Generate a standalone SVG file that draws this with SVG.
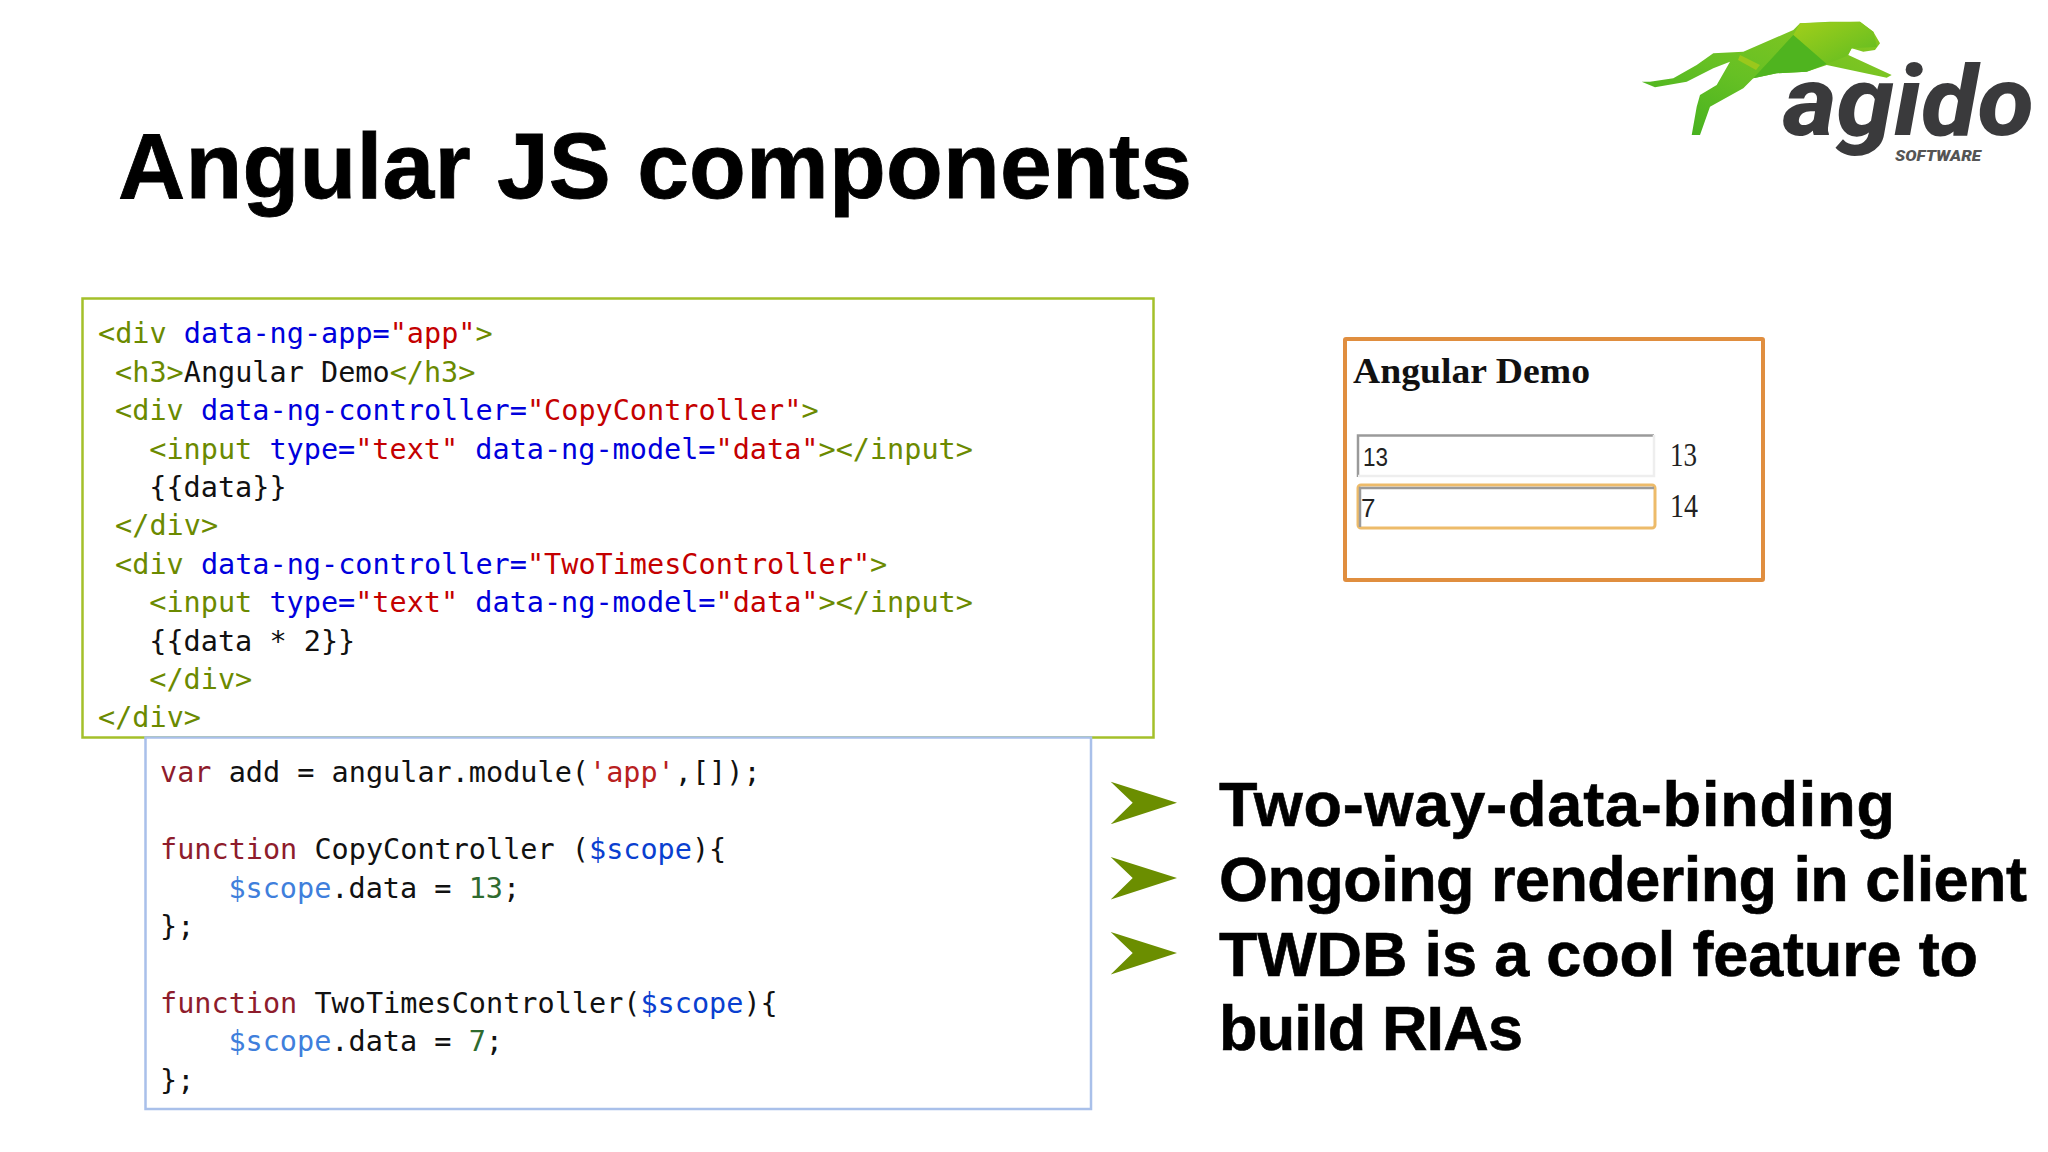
<svg xmlns="http://www.w3.org/2000/svg" width="2048" height="1152" viewBox="0 0 2048 1152">
<style>
.title{font:700 93px "Liberation Sans",Arial,sans-serif;fill:#000;stroke:#000;stroke-width:.8}
.bullet{font:700 63px "Liberation Sans",Arial,sans-serif;fill:#000;stroke:#000;stroke-width:.6}
.code{font:400 28.5px "DejaVu Sans Mono","Liberation Mono",monospace;fill:#111;white-space:pre}
.t{fill:#6b8a00}.a{fill:#0000dc}.s{fill:#c40000}.k{fill:#8e1c2c}.v{fill:#0a3fd0}.w{fill:#3f7fdc}.r{fill:#b82020}.n{fill:#2f6b2f}
.mark{fill:#6b8e00}
.ui{font:400 26px "Liberation Sans",Arial,sans-serif;fill:#222}
.sv{font:400 33px "Liberation Serif","Times New Roman",serif;fill:#222}
</style>
<defs>
<linearGradient id="pg" x1="0" y1="1" x2="1" y2="0"><stop offset="0" stop-color="#3fae1e"/><stop offset="0.45" stop-color="#66c024"/><stop offset="1" stop-color="#8cc820"/></linearGradient>
<linearGradient id="pt" x1="0" y1="0" x2="1" y2="1"><stop offset="0" stop-color="#a2cf1a"/><stop offset="1" stop-color="#5dbb22"/></linearGradient>
<path id="arrow" class="mark" d="M1110.7 781.7L1177 802.7L1110.7 824.3L1132.7 802.7Z"/>
</defs>
<rect width="2048" height="1152" fill="#fff"/>
<text id="title" class="title" x="118" y="198" textLength="1074">Angular JS components</text>
<g id="logo">
<path fill="url(#pg)" d="M1641.700 81.700L1650 81.700L1673.300 78.300L1696.700 65L1713.300 53.300L1743.300 51.700L1793.300 30L1800 23.300L1830 21.700L1860 21.700L1873.300 31.700L1880 43.300L1875 50L1863.300 51.700L1851.700 48.300L1848.300 55L1891.700 75L1886.700 77.700L1826.700 65L1806.700 71.700L1776.700 73.300L1753.300 78.300L1743.300 88.300L1710 106.700L1700 135L1691.700 135L1696.700 106.700L1700 95L1716.700 85L1730 61.700L1713.300 68.300L1686.700 81.700L1655 87.300Z"/>
<path fill="url(#pt)" d="M1800 23.300L1860 21.700L1873.300 31.700L1877 47L1851.700 48.300L1847 56L1826.700 64L1793.300 35Z"/>
<path fill="#4fb41f" d="M1753.300 78.300L1793.300 35L1826.700 64L1806.700 71.700L1776.700 73.300Z"/>
<path fill="#9ac81c" d="M1740 55L1760 65L1756 70L1738 60Z"/>
<text x="1783" y="135" font-family="Roboto,'Open Sans',sans-serif" font-weight="800" font-style="italic" font-size="98" fill="#3a3a3c" textLength="251" lengthAdjust="spacingAndGlyphs">agido</text>
<text x="1895" y="161" font-family="Roboto,sans-serif" font-weight="900" font-style="italic" font-size="15.500" fill="#555" textLength="86" lengthAdjust="spacingAndGlyphs">SOFTWARE</text>
</g>
<g id="html-box">
<rect x="82.5" y="298.500" width="1071" height="439" fill="#fff" stroke="#a4c02a" stroke-width="2.500"/>
<text class="code" y="343.300"><tspan x="98" class="t">&lt;div </tspan><tspan class="a">data-ng-app=</tspan><tspan class="s">"app"</tspan><tspan class="t">&gt;</tspan></text>
<text class="code" y="381.700"><tspan x="115.100" class="t">&lt;h3&gt;</tspan>Angular Demo<tspan class="t">&lt;/h3&gt;</tspan></text>
<text class="code" y="420.100"><tspan x="115.100" class="t">&lt;div </tspan><tspan class="a">data-ng-controller=</tspan><tspan class="s">"CopyController"</tspan><tspan class="t">&gt;</tspan></text>
<text class="code" y="458.500"><tspan x="149.300" class="t">&lt;input </tspan><tspan class="a">type=</tspan><tspan class="s">"text" </tspan><tspan class="a">data-ng-model=</tspan><tspan class="s">"data"</tspan><tspan class="t">&gt;&lt;/input&gt;</tspan></text>
<text class="code" x="149.300" y="496.900">{{data}}</text>
<text class="code t" x="115.100" y="535.300">&lt;/div&gt;</text>
<text class="code" y="573.700"><tspan x="115.100" class="t">&lt;div </tspan><tspan class="a">data-ng-controller=</tspan><tspan class="s">"TwoTimesController"</tspan><tspan class="t">&gt;</tspan></text>
<text class="code" y="612.100"><tspan x="149.300" class="t">&lt;input </tspan><tspan class="a">type=</tspan><tspan class="s">"text" </tspan><tspan class="a">data-ng-model=</tspan><tspan class="s">"data"</tspan><tspan class="t">&gt;&lt;/input&gt;</tspan></text>
<text class="code" x="149.300" y="650.500">{{data * 2}}</text>
<text class="code t" x="149.300" y="688.900">&lt;/div&gt;</text>
<text class="code t" x="98" y="727.300">&lt;/div&gt;</text>
</g>
<g id="js-box">
<rect x="145.500" y="737.500" width="945.500" height="371.500" fill="#fff" stroke="#a9c0ea" stroke-width="2.500"/>
<text class="code" y="782.400"><tspan x="160" class="k">var</tspan> add = angular.module(<tspan class="r">'app'</tspan>,[]);</text>
<text class="code" y="859.200"><tspan x="160" class="k">function</tspan> CopyController (<tspan class="v">$scope</tspan>){</text>
<text class="code" y="897.600"><tspan x="228.400" class="w">$scope</tspan>.data = <tspan class="n">13</tspan>;</text>
<text class="code" x="160" y="936">};</text>
<text class="code" y="1012.800"><tspan x="160" class="k">function</tspan> TwoTimesController(<tspan class="v">$scope</tspan>){</text>
<text class="code" y="1051.200"><tspan x="228.400" class="w">$scope</tspan>.data = <tspan class="n">7</tspan>;</text>
<text class="code" x="160" y="1089.600">};</text>
</g>
<g id="demo">
<rect x="1345" y="339" width="418" height="241" fill="#fff" stroke="#e08e3f" stroke-width="4" rx="1"/>
<text x="1353" y="383" font-family="'Liberation Serif',serif" font-weight="700" font-size="36" fill="#111" textLength="237" lengthAdjust="spacingAndGlyphs">Angular Demo</text>
<g id="input-1">
<path d="M1358 477V435.500H1654" fill="none" stroke="#9a9a9a" stroke-width="2.500"/>
<path d="M1654 435V476H1358" fill="none" stroke="#eeeeee" stroke-width="2.500"/>
<text class="ui" x="1363" y="466" textLength="25" lengthAdjust="spacingAndGlyphs">13</text>
<text class="sv" x="1670" y="465.500" textLength="27" lengthAdjust="spacingAndGlyphs">13</text>
</g>
<g id="input-2">
<rect x="1358" y="485" width="297" height="43" rx="3" fill="#fff" stroke="#edbb6a" stroke-width="3"/>
<path d="M1360 527V488H1654" fill="none" stroke="#9a9a9a" stroke-width="2.500"/>
<text class="ui" x="1361" y="517">7</text>
<text class="sv" x="1670" y="516.500" textLength="28" lengthAdjust="spacingAndGlyphs">14</text>
</g>
</g>
<g id="bullets">
<use href="#arrow"/><use href="#arrow" y="75.300"/><use href="#arrow" y="150.300"/>
<text class="bullet" x="1219" y="826" textLength="676">Two-way-data-binding</text>
<text class="bullet" x="1219" y="901" textLength="808">Ongoing rendering in client</text>
<text class="bullet" x="1219" y="976" textLength="759">TWDB is a cool feature to</text>
<text class="bullet" x="1219" y="1050" textLength="304">build RIAs</text>
</g>
</svg>
